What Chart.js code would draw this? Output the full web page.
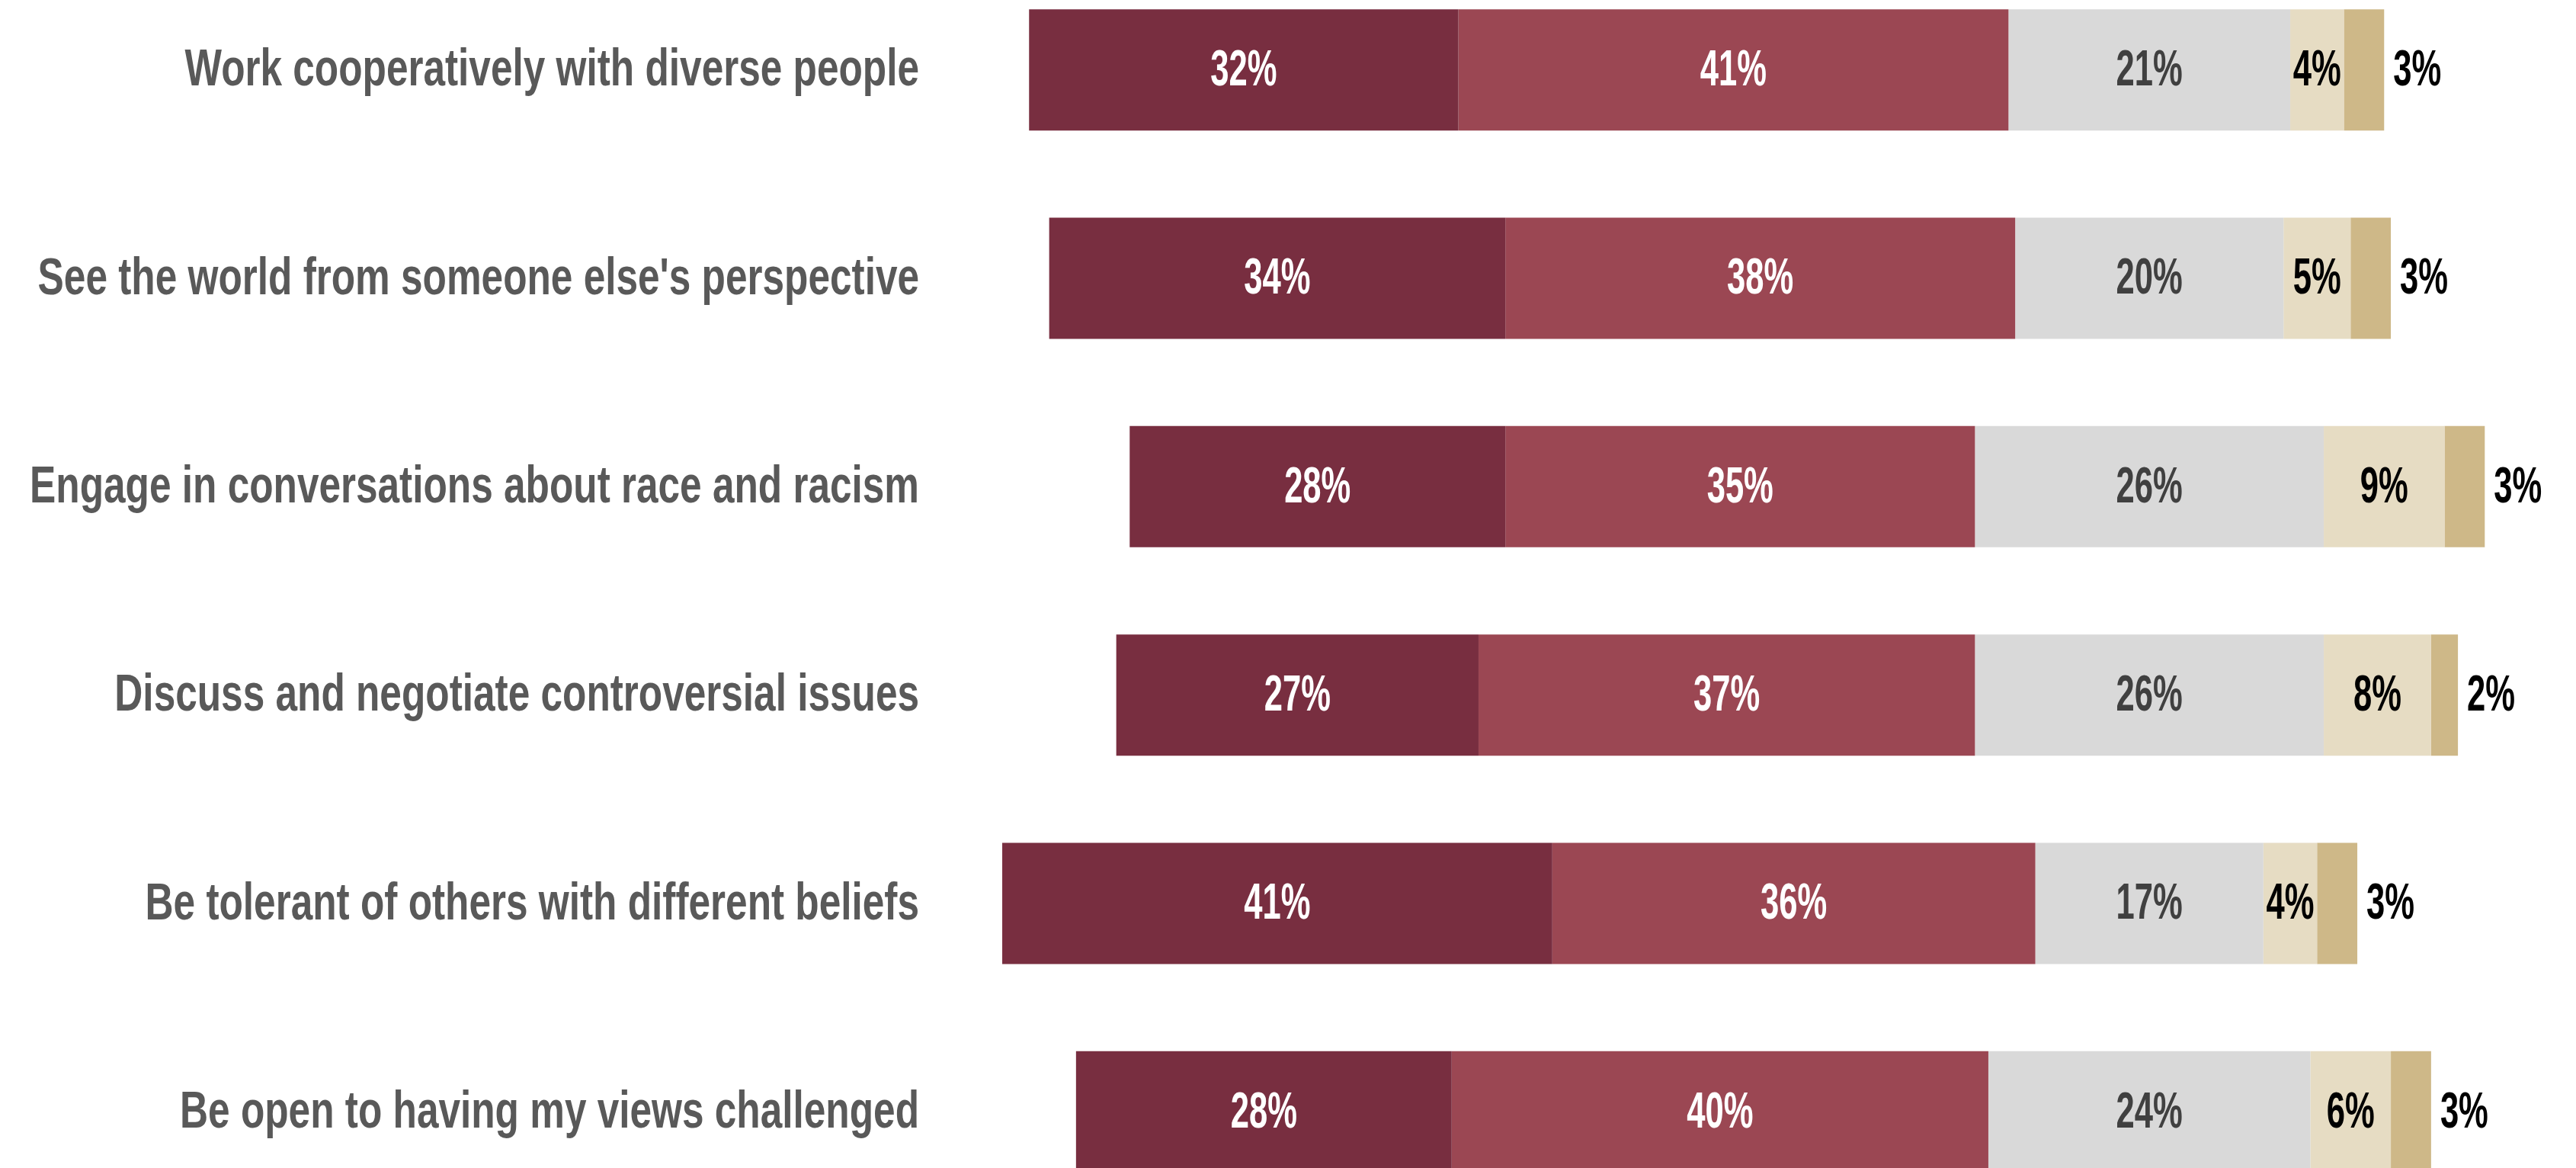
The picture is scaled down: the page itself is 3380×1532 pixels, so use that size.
<!DOCTYPE html>
<html>
<head>
<meta charset="utf-8">
<script src="https://cdn.jsdelivr.net/npm/chart.js@4/dist/chart.umd.min.js"></script>
<style>
  html, body { margin: 0; padding: 0; background: #fff; overflow: hidden; width: 3380px; height: 1532px; }
  #wrap { position: absolute; left: 0; top: -45px; width: 3380px; height: 1640px; }
</style>
</head>
<body>
<div id="wrap"><canvas id="skillsChart"></canvas></div>
<script>
const questions = [
  "Work cooperatively with diverse people",
  "See the world from someone else's perspective",
  "Engage in conversations about race and racism",
  "Discuss and negotiate controversial issues",
  "Be tolerant of others with different beliefs",
  "Be open to having my views challenged"
];
const stronglyAgree    = [32, 34, 28, 27, 41, 28];
const agree            = [41, 38, 35, 37, 36, 40];
const neutral          = [21, 20, 26, 26, 17, 24];
const disagree         = [4, 5, 9, 8, 4, 6];
const stronglyDisagree = [3, 3, 3, 2, 3, 3];

const seriesNames  = ["Strongly agree", "Agree", "Neutral", "Disagree", "Strongly disagree"];
const seriesColors = ["#782E40", "#9B4753", "#D9D9D9", "#E6DCC3", "#CEB888"];
const labelColors  = ["#FFFFFF", "#FFFFFF", "#404040", "#000000", "#000000"];

const FONT = "'Liberation Sans', Arial, sans-serif";
const LABEL_RIGHT = 1206;   // right edge of the question text
const LABEL_SQUEEZE = 0.755; // narrow look for the question text
const VALUE_SQUEEZE = 0.66; // narrow look for the percentages

// bars are centred on the middle of the neutral segment
const series = [stronglyAgree, agree, neutral, disagree, stronglyDisagree];
const starts = questions.map((q, i) => -(stronglyAgree[i] + agree[i] + neutral[i] / 2));

const datasets = series.map((vals, s) => {
  const data = vals.map((v, i) => {
    let from = starts[i];
    for (let k = 0; k < s; k++) from += series[k][i];
    return [from, from + v];
  });
  return {
    label: seriesNames[s],
    data: data,
    backgroundColor: seriesColors[s],
    borderWidth: 0,
    grouped: false,
    categoryPercentage: 1,
    barPercentage: 0.582
  };
});

function squeezedText(ctx, txt, x, y, f) {
  ctx.save();
  ctx.translate(x, y);
  ctx.scale(f, 1);
  ctx.fillText(txt, 0, 0);
  ctx.restore();
}

// question text on the left and percent labels on the segments
const textLayer = {
  id: 'textLayer',
  afterDatasetsDraw(chart) {
    const ctx = chart.ctx;
    const yScale = chart.scales.y;
    ctx.save();
    ctx.textBaseline = 'middle';

    ctx.font = "bold 68px " + FONT;
    ctx.fillStyle = "#595959";
    ctx.textAlign = 'right';
    chart.data.labels.forEach((lab, i) => {
      squeezedText(ctx, lab, LABEL_RIGHT, yScale.getPixelForTick(i) + 2, LABEL_SQUEEZE);
    });

    ctx.font = "bold 66px " + FONT;
    chart.data.datasets.forEach((ds, s) => {
      const meta = chart.getDatasetMeta(s);
      meta.data.forEach((bar, i) => {
        const txt = series[s][i] + "%";
        ctx.fillStyle = labelColors[s];
        if (s === series.length - 1) {
          ctx.textAlign = 'left';
          squeezedText(ctx, txt, bar.x + 12, bar.y + 2, VALUE_SQUEEZE);
        } else {
          ctx.textAlign = 'center';
          squeezedText(ctx, txt, (bar.x + bar.base) / 2, bar.y + 2, VALUE_SQUEEZE);
        }
      });
    });
    ctx.restore();
  }
};

new Chart("skillsChart", {
  type: "bar",
  data: {
    labels: questions,
    datasets: datasets
  },
  options: {
    indexAxis: 'y',
    responsive: true,
    maintainAspectRatio: false,
    animation: false,
    devicePixelRatio: 1,
    layout: { padding: 0 },
    plugins: {
      legend: { display: false },
      tooltip: { enabled: false }
    },
    scales: {
      x: {
        display: false,
        min: -160.2,
        max: 31.8
      },
      y: {
        display: false
      }
    }
  },
  plugins: [textLayer]
});
</script>
</body>
</html>
